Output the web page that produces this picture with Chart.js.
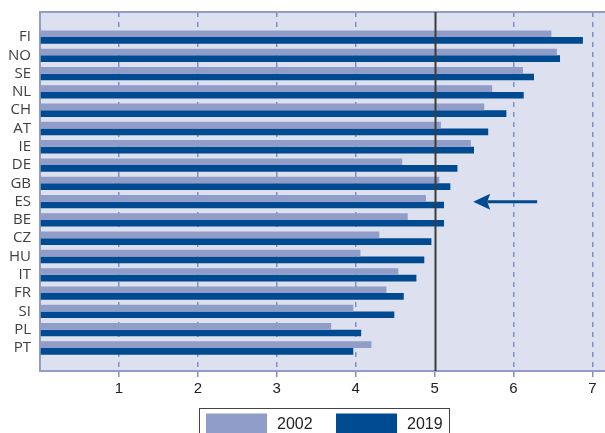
<!DOCTYPE html>
<html>
<head>
<meta charset="utf-8">
<script src="https://cdn.jsdelivr.net/npm/chart.js@4"></script>
<style>
  html, body { margin: 0; padding: 0; background: #fff; overflow: hidden; }
  #wrap { width: 605px; height: 433px; position: relative; }
</style>
</head>
<body>
<div id="wrap"><canvas id="myChart"></canvas></div>
<script>
// datos
var countries = ["FI", "NO", "SE", "NL", "CH", "AT", "IE", "DE", "GB", "ES", "BE", "CZ", "HU", "IT", "FR", "SI", "PL", "PT"];
var values2002 = [6.48, 6.55, 6.12, 5.73, 5.63, 5.08, 5.46, 4.59, 5.06, 4.89, 4.66, 4.30, 4.06, 4.54, 4.39, 3.97, 3.69, 4.20];
var values2019 = [6.88, 6.59, 6.26, 6.13, 5.91, 5.68, 5.50, 5.29, 5.20, 5.12, 5.12, 4.96, 4.87, 4.77, 4.61, 4.49, 4.07, 3.97];
var seriesLabels = ["2002", "2019"];
var xTicks = [1, 2, 3, 4, 5, 6, 7];
var refValue = 5;
var arrowCountry = "ES";
var arrowFrom = 6.30;
var arrowTo = 5.49;

var lightBlue = "#8f9dc8";
var darkBlue = "#004a91";
var plotBg = "#dde0ef";
var gridBlue = "#7f8fc6";

function toPoints(vals) {
    return vals.map(function (v, i) { return { x: v, y: i }; });
}

// fondo del area del grafico
var bgPlugin = {
    id: "bgPlugin",
    beforeDraw: function (chart) {
        var a = chart.chartArea, c = chart.ctx;
        c.save();
        c.fillStyle = plotBg;
        c.fillRect(a.left, a.top, a.right - a.left, a.bottom - a.top);
        c.restore();
    }
};

// linea de referencia en 5, borde superior, flecha y leyenda con marco
var overlayPlugin = {
    id: "overlayPlugin",
    afterDatasetsDraw: function (chart) {
        var a = chart.chartArea, c = chart.ctx;
        var xs = chart.scales.x, ys = chart.scales.y;
        c.save();
        // borde superior
        c.strokeStyle = "#8f9dc8";
        c.lineWidth = 2;
        c.beginPath();
        c.moveTo(a.left, a.top);
        c.lineTo(a.right, a.top);
        c.stroke();
        // linea vertical en el valor de referencia
        var xr = Math.round(xs.getPixelForValue(refValue)) + 0.5;
        c.strokeStyle = "#3c3c3c";
        c.lineWidth = 2;
        c.beginPath();
        c.moveTo(xr, a.top);
        c.lineTo(xr, a.bottom);
        c.stroke();
        // flecha hacia ES
        var yA = ys.getPixelForValue(countries.indexOf(arrowCountry));
        var x1 = xs.getPixelForValue(arrowFrom);
        var x2 = xs.getPixelForValue(arrowTo);
        c.strokeStyle = darkBlue;
        c.fillStyle = darkBlue;
        c.lineWidth = 3;
        c.beginPath();
        c.moveTo(x1, yA);
        c.lineTo(x2 + 14, yA);
        c.stroke();
        c.beginPath();
        c.moveTo(x2, yA);
        c.lineTo(x2 + 17, yA - 8);
        c.lineTo(x2 + 14, yA);
        c.lineTo(x2 + 17, yA + 8);
        c.closePath();
        c.fill();
        c.restore();
    },
    afterDraw: function (chart) {
        var a = chart.chartArea, c = chart.ctx;
        var cx = (a.left + a.right) / 2 + 1.5;
        var top = a.bottom + 37;
        c.save();
        c.strokeStyle = "#444";
        c.lineWidth = 1;
        c.strokeRect(Math.round(cx - 125) + 0.5, Math.round(top) + 0.5, 250, 40);
        c.font = "16px 'Liberation Sans', Arial, sans-serif";
        c.textBaseline = "alphabetic";
        var itemX = cx - 118;
        chart.data.datasets.forEach(function (ds) {
            c.fillStyle = ds.backgroundColor;
            c.fillRect(itemX, top + 5.5, 61, 24);
            c.fillStyle = "#222";
            c.fillText(ds.label, itemX + 71, top + 21);
            itemX += 130;
        });
        c.restore();
    }
};

var ctx = document.getElementById("myChart");
var myChart = new Chart(ctx, {
    type: "bar",
    data: {
        datasets: [{
            label: seriesLabels[0],
            data: toPoints(values2002),
            backgroundColor: lightBlue,
            borderWidth: 0
        }, {
            label: seriesLabels[1],
            data: toPoints(values2019),
            backgroundColor: darkBlue,
            borderWidth: 0
        }]
    },
    options: {
        indexAxis: "y",
        responsive: true,
        maintainAspectRatio: false,
        animation: false,
        categoryPercentage: 0.73,
        barPercentage: 1.0,
        layout: { padding: { top: 12, right: 0, left: 0, bottom: 0 } },
        plugins: {
            legend: { display: false },
            tooltip: { enabled: false }
        },
        scales: {
            x: {
                type: "linear",
                min: 0,
                max: 7.16,
                afterFit: function (scale) { scale.height = 62; scale.paddingLeft = 0; scale.paddingRight = 0; },
                afterBuildTicks: function (scale) {
                    scale.ticks = [{ value: 0 }].concat(xTicks.map(function (v) { return { value: v }; }));
                },
                ticks: {
                    padding: 3,
                    color: "#222",
                    font: { family: "'Liberation Sans', Arial, sans-serif", size: 15 },
                    callback: function (v) { return v === 0 ? "" : String(v); }
                },
                grid: {
                    display: true,
                    drawTicks: true,
                    tickLength: 6,
                    lineWidth: 1.5,
                    color: function (c) {
                        if (!c.tick || c.tick.value === 0 || c.tick.value === refValue) return "rgba(0,0,0,0)";
                        return gridBlue;
                    },
                    tickColor: function (c) {
                        if (!c.tick || c.tick.value === 0) return "rgba(0,0,0,0)";
                        return gridBlue;
                    }
                },
                border: { display: true, color: "#8f9dc8", width: 2, dash: [5, 5] }
            },
            y: {
                type: "linear",
                reverse: true,
                offset: false,
                min: -1.37,
                max: 18.26,
                afterFit: function (scale) { scale.width = 40; scale.paddingTop = 0; scale.paddingBottom = 0; },
                afterBuildTicks: function (scale) {
                    scale.ticks = countries.map(function (n, i) { return { value: i }; });
                },
                ticks: {
                    padding: 9,
                    autoSkip: false,
                    color: "#404040",
                    font: { family: "'Open Sans', sans-serif", size: 15 },
                    callback: function (v) { return countries[v] || ""; }
                },
                grid: { display: false, drawTicks: false, offset: false },
                border: { display: true, color: "#8f9dc8", width: 2 }
            }
        }
    },
    plugins: [bgPlugin, overlayPlugin]
});
</script>
</body>
</html>
